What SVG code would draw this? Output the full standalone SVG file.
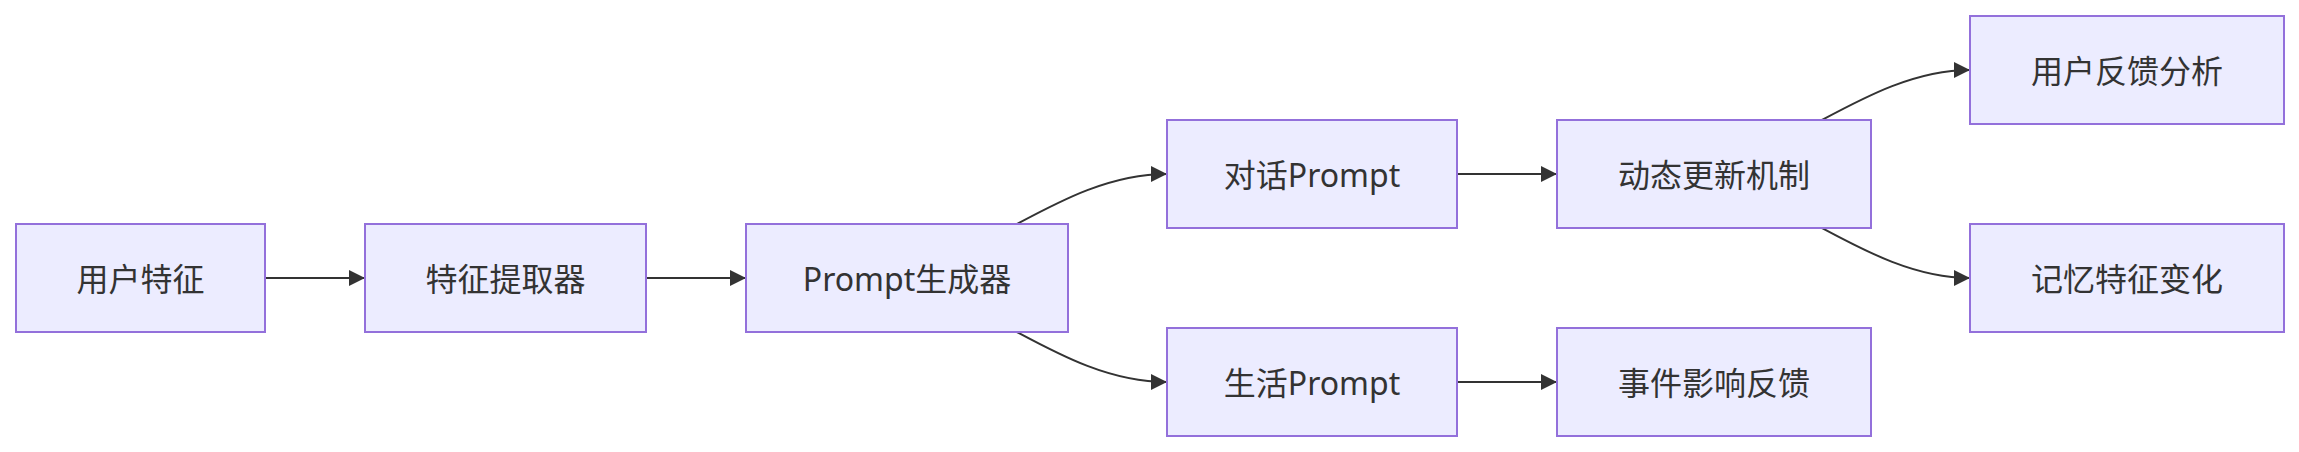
<svg xmlns="http://www.w3.org/2000/svg" width="2299" height="452" viewBox="0 0 2299 452">
<style>
.node rect{fill:#ECECFF;stroke:#9370DB;stroke-width:2}
.node text{font-family:"Noto Sans","Noto Sans CJK SC",sans-serif;font-size:32px;fill:#333;text-anchor:middle;dominant-baseline:central}
.edges path{fill:none;stroke:#333;stroke-width:2}
</style>
<defs>
<marker id="arrow" viewBox="0 0 10 10" refX="10" refY="5" markerUnits="userSpaceOnUse" markerWidth="16" markerHeight="16" orient="auto">
<path d="M0,0 L10,5 L0,10 z" fill="#333"/>
</marker>
</defs>
<rect width="2299" height="452" fill="#fff"/>
<g class="edges">
<path d="M265,278 L365,278" marker-end="url(#arrow)"/>
<path d="M646,278 L746,278" marker-end="url(#arrow)"/>
<path d="M1017,224 C1060,201 1110,174 1167,174" marker-end="url(#arrow)"/>
<path d="M1017,332 C1060,355 1110,382 1167,382" marker-end="url(#arrow)"/>
<path d="M1457,174 L1557,174" marker-end="url(#arrow)"/>
<path d="M1457,382 L1557,382" marker-end="url(#arrow)"/>
<path d="M1822,120 C1865,97 1915,70 1970,70" marker-end="url(#arrow)"/>
<path d="M1822,228 C1865,251 1915,278 1970,278" marker-end="url(#arrow)"/>
</g>
<g id="n1" class="node"><rect x="16" y="224" width="249" height="108"/><text x="140.5" y="278">用户特征</text></g>
<g id="n2" class="node"><rect x="365" y="224" width="281" height="108"/><text x="505.5" y="278">特征提取器</text></g>
<g id="n3" class="node"><rect x="746" y="224" width="322" height="108"/><text x="907" y="278">Prompt生成器</text></g>
<g id="n4" class="node"><rect x="1167" y="120" width="290" height="108"/><text x="1312" y="174">对话Prompt</text></g>
<g id="n5" class="node"><rect x="1167" y="328" width="290" height="108"/><text x="1312" y="382">生活Prompt</text></g>
<g id="n6" class="node"><rect x="1557" y="120" width="314" height="108"/><text x="1714" y="174">动态更新机制</text></g>
<g id="n7" class="node"><rect x="1557" y="328" width="314" height="108"/><text x="1714" y="382">事件影响反馈</text></g>
<g id="n8" class="node"><rect x="1970" y="16" width="314" height="108"/><text x="2127" y="70">用户反馈分析</text></g>
<g id="n9" class="node"><rect x="1970" y="224" width="314" height="108"/><text x="2127" y="278">记忆特征变化</text></g>
</svg>
